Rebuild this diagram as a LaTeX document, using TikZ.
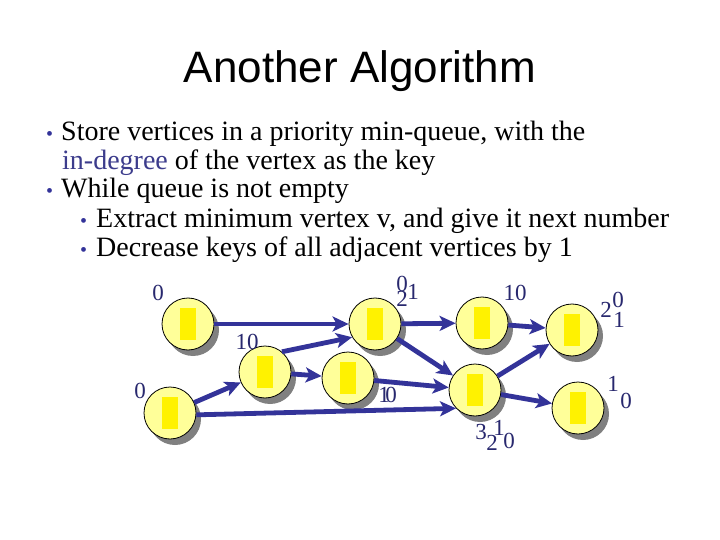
\documentclass[tikz,border=0pt]{standalone}
\usepackage{fontspec}
\setmainfont{Liberation Serif}
\newfontfamily\titlefont{Liberation Sans}
\usetikzlibrary{arrows.meta,shadows}
\definecolor{arrowblue}{RGB}{51,51,153}
\definecolor{lblue}{RGB}{40,40,110}
\definecolor{degblue}{RGB}{60,60,140}
\definecolor{lightyellow}{RGB}{255,255,153}
\definecolor{shadowgray}{RGB}{128,128,128}
\begin{document}
\begin{tikzpicture}[x=1pt,y=-1pt,
  vertex/.style={circle, draw=black, line width=0.8pt, fill=lightyellow, minimum size=52pt, inner sep=0pt,
    drop shadow={shadow xshift=5pt, shadow yshift=-6pt, fill=shadowgray, opacity=1},
    path picture={\fill[yellow] ([xshift=-8pt,yshift=-16pt]path picture bounding box.center) rectangle ++(16pt,32pt);}},
  arr/.style={draw=arrowblue, line width=4.8pt, -{Stealth[length=16pt,width=15pt,inset=4pt]}},
  lbl/.style={font=\fontsize{23}{23}\selectfont, text=lblue, inner sep=0pt},
  txt/.style={anchor=base west, inner sep=0pt, font=\fontsize{28}{30}\selectfont},
  bul/.style={anchor=base west, inner sep=0pt, text=arrowblue, font=\fontsize{20}{20}\selectfont}
]
\useasboundingbox[fill=white] (0,0) rectangle (720,540);

% title
\node[anchor=base, inner sep=0pt, font=\titlefont\fontsize{44}{44}\selectfont] (title) at (360,83) {Another Algorithm};

% bullets
\node[bul] (b1) at (46,141) {\textbullet};
\node[txt] (t1) at (61,141) {Store vertices in a priority min-queue, with the};
\node[txt] (t2) at (62,170) {\textcolor{degblue}{in-degree} of the vertex as the key};
\node[bul] (b3) at (46,198) {\textbullet};
\node[txt] (t3) at (61,198) {While queue is not empty};
\node[bul] (b4) at (80,227) {\textbullet};
\node[txt] (t4) at (96,227) {Extract minimum vertex v, and give it next number};
\node[bul] (b5) at (80,256) {\textbullet};
\node[txt] (t5) at (96,256) {Decrease keys of all adjacent vertices by 1};

% vertices
\node[vertex] (A) at (188,324) {};
\node[vertex] (B) at (170,413) {};
\node[vertex] (C) at (265,372) {};
\node[vertex] (D) at (348,378) {};
\node[vertex] (E) at (375,324) {};
\node[vertex] (F) at (482,323) {};
\node[vertex] (G) at (475,390) {};
\node[vertex] (H) at (572,330) {};
\node[vertex] (I) at (578,408) {};

% edges
\draw[arr] (A) -- (E);
\draw[arr] (B) -- (C);
\draw[arr] (B.-4) -- (G.224);
\draw[arr] (C.50) -- (E.210);
\draw[arr] (C) -- (D);
\draw[arr] (E) -- (F);
\draw[arr] (E) -- (G);
\draw[arr] (D) -- (G);
\draw[arr] (F) -- (H);
\draw[arr] (G) -- (H);
\draw[arr] (G) -- (I);

% key labels
\node[lbl] (lA) at (158,293) {0};
\node[lbl] (lB) at (140,391) {0};
\node[lbl] (lC) at (247,342) {10};
\node[lbl] (lD1) at (384,395) {1};
\node[lbl] (lD0) at (391,395) {0};
\node[lbl] (lE0) at (402,284) {0};
\node[lbl] (lE2) at (402,299) {2};
\node[lbl] (lE1) at (413,292) {1};
\node[lbl] (lF) at (515,293) {10};
\node[lbl] (lH2) at (606,310) {2};
\node[lbl] (lH0) at (618,300) {0};
\node[lbl] (lH1) at (619,320) {1};
\node[lbl] (lI1) at (613,384) {1};
\node[lbl] (lI0) at (626,401) {0};
\node[lbl] (lG3) at (481,432) {3};
\node[lbl] (lG2) at (492,443) {2};
\node[lbl] (lG1) at (499,428) {1};
\node[lbl] (lG0) at (509,441) {0};
\end{tikzpicture}
\end{document}
